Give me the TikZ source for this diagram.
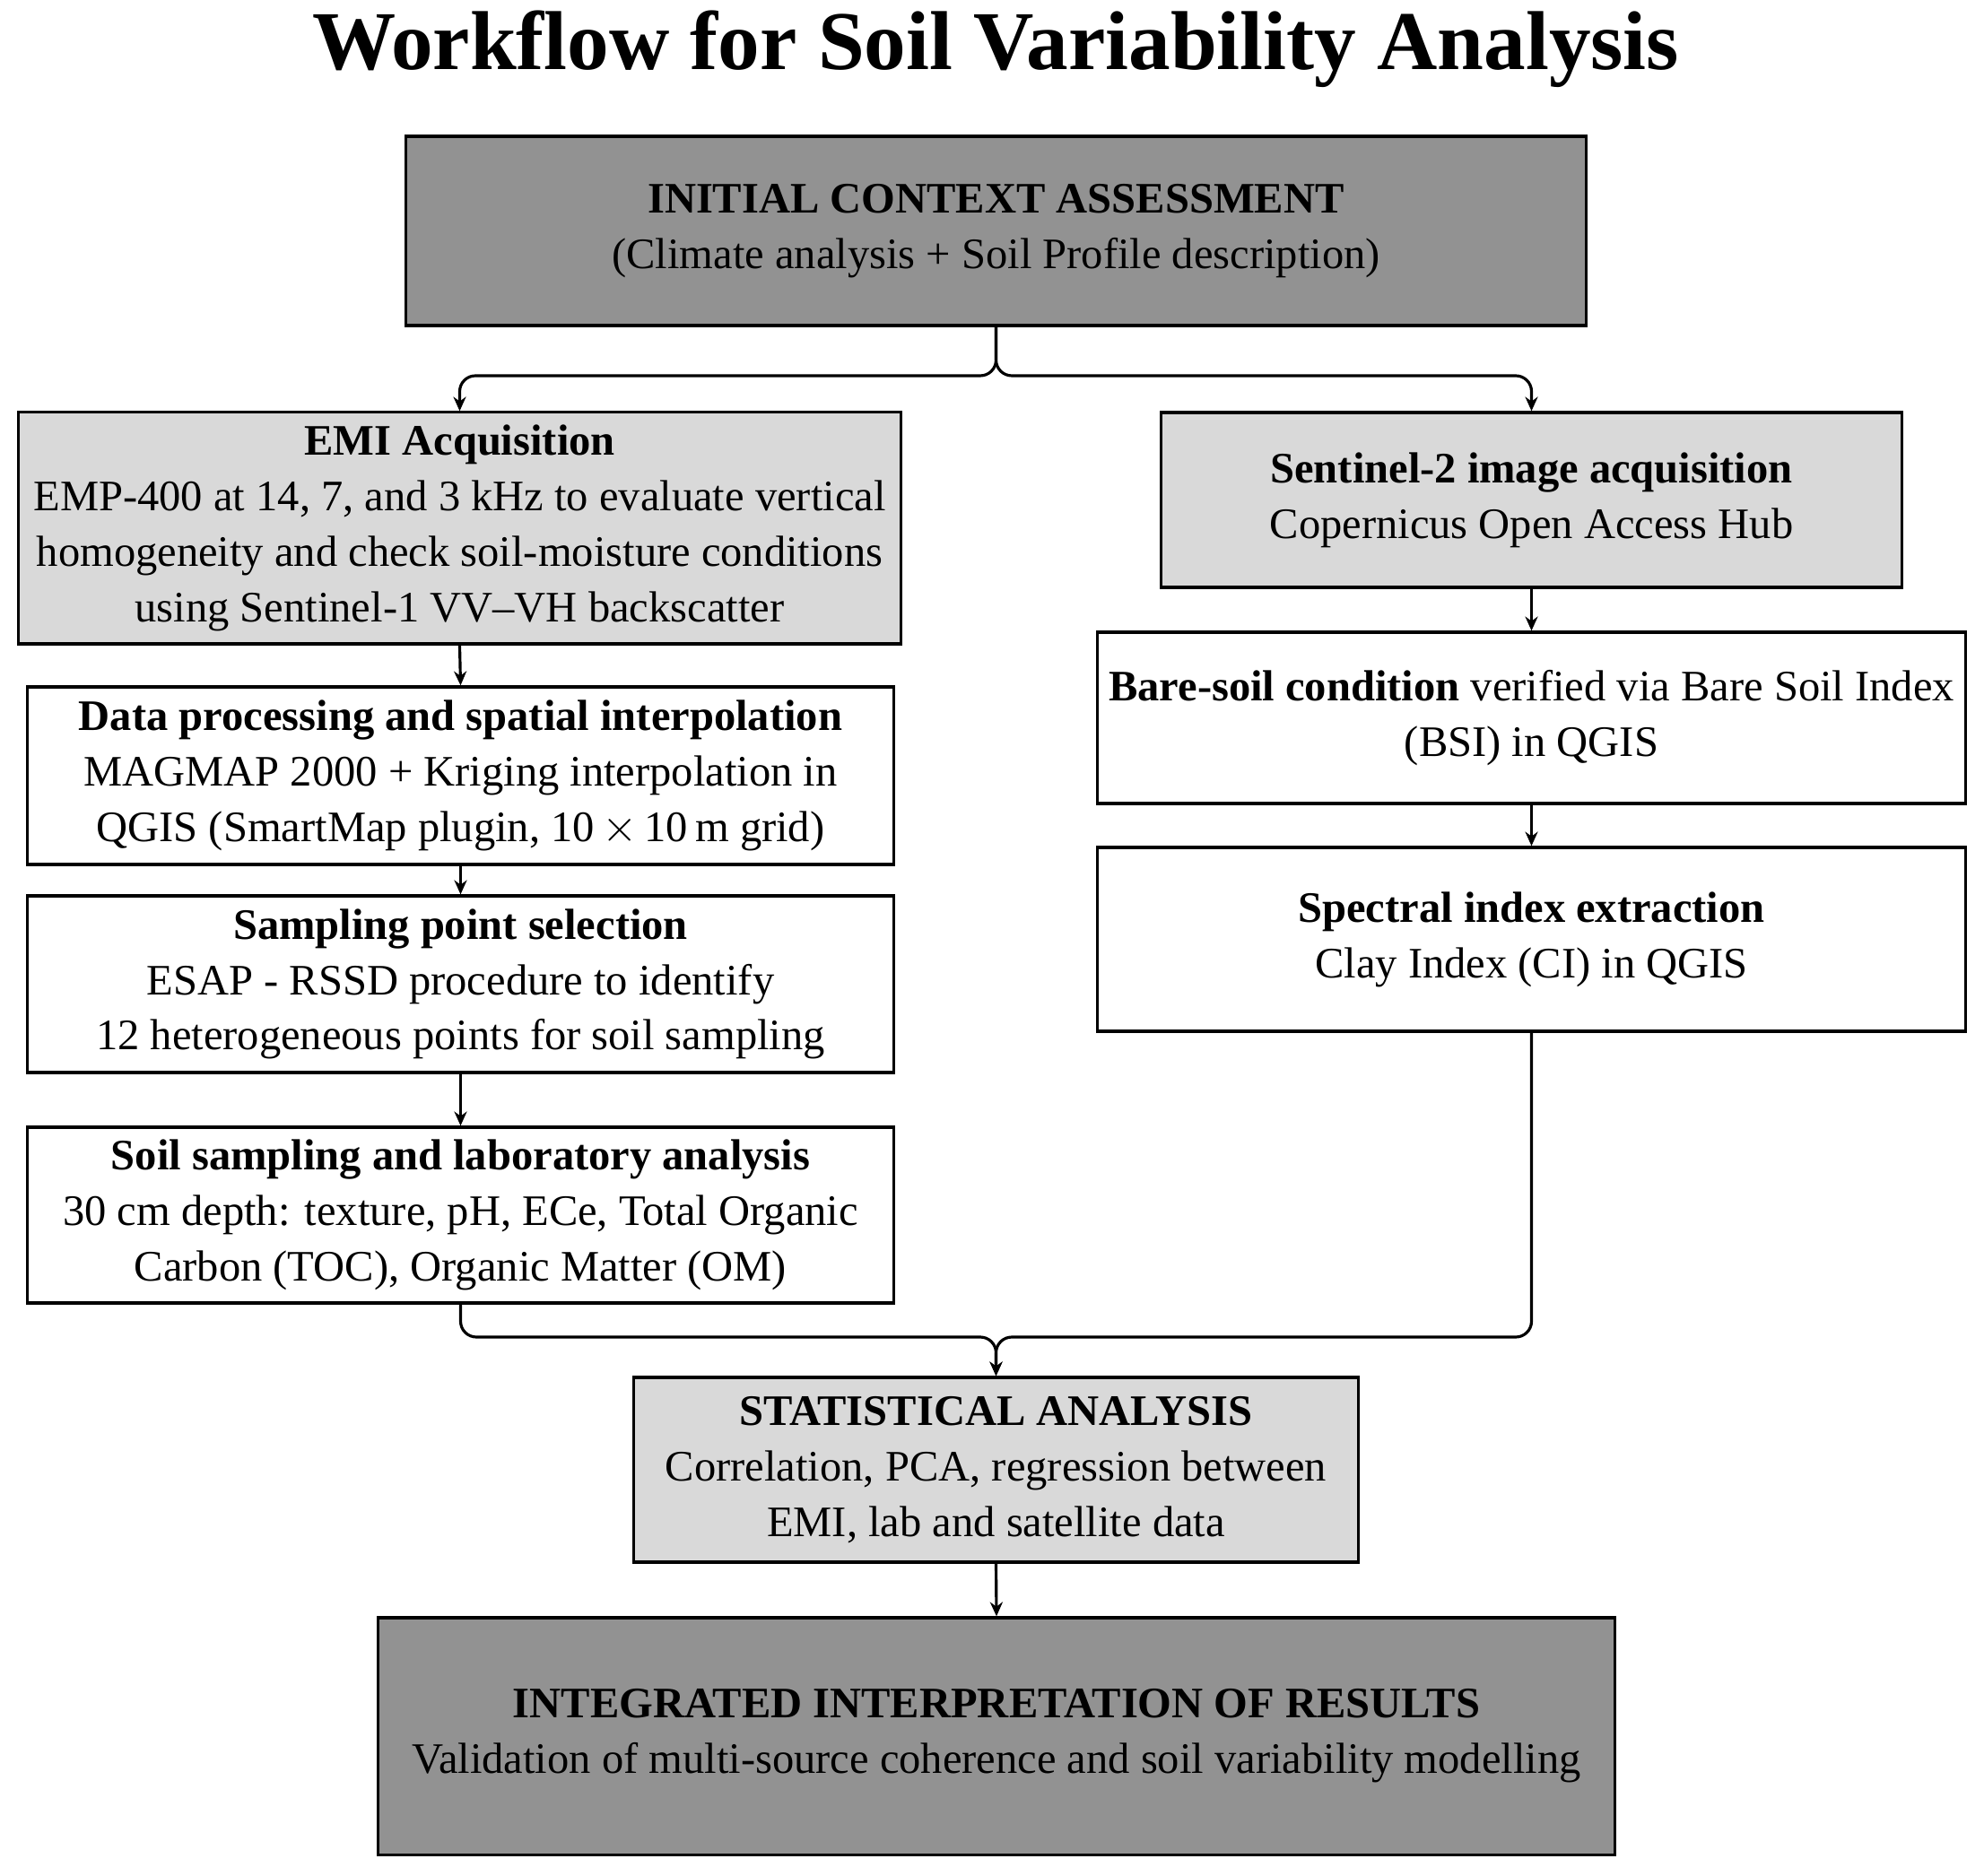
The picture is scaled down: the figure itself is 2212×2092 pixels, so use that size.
\documentclass[tikz,border=0pt]{standalone}
\usepackage{fontspec}
\setmainfont{Liberation Serif}
\usetikzlibrary{arrows.meta}
\definecolor{darkfill}{HTML}{929292}
\definecolor{lightfill}{HTML}{D9D9D9}
\tikzset{
  box/.style={draw=black, line width=0.9pt, align=center, inner sep=0pt,
    font=\fontsize{13.8}{17.6}\selectfont},
  darkbox/.style={box, fill=darkfill},
  lightbox/.style={box, fill=lightfill},
  whitebox/.style={box, fill=white},
  arr/.style={line width=0.9pt, -{Stealth[length=4.5pt,width=4pt]}},
  conn/.style={line width=0.9pt, rounded corners=5pt},
}
\begin{document}
\begin{tikzpicture}[x=0.01cm,y=-0.01cm]
\useasboundingbox (0,0) rectangle (2212,2092);
\node (title) at (1110,55) {\fontsize{26.5}{30}\selectfont\bfseries Workflow for Soil Variability Analysis};

\node[darkbox, minimum width=13.15cm, minimum height=2.11cm] (top) at (1110.5,257.5)
  {\textbf{INITIAL CONTEXT ASSESSMENT}\\(Climate analysis + Soil Profile description)};

\node[lightbox, minimum width=9.83cm, minimum height=2.58cm] (emi) at (512.5,589)
  {\textbf{EMI Acquisition}\\EMP-400 at 14, 7, and 3 kHz to evaluate vertical\\homogeneity and check soil-moisture conditions\\using Sentinel-1 VV--VH backscatter};

\node[lightbox, minimum width=8.25cm, minimum height=1.95cm] (sen) at (1707.5,557.5)
  {\textbf{Sentinel-2 image acquisition}\\Copernicus Open Access Hub};

\node[whitebox, minimum width=9.65cm, minimum height=1.98cm] (data) at (513.5,865)
  {\textbf{Data processing and spatial interpolation}\\MAGMAP 2000 + Kriging interpolation in\\QGIS (SmartMap plugin, 10\,$\times$\,10\,m grid)};

\node[whitebox, minimum width=9.65cm, minimum height=1.97cm] (samp) at (513.5,1097.5)
  {\textbf{Sampling point selection}\\ESAP - RSSD procedure to identify\\12 heterogeneous points for soil sampling};

\node[whitebox, minimum width=9.65cm, minimum height=1.96cm] (soil) at (513.5,1355)
  {\textbf{Soil sampling and laboratory analysis}\\30 cm depth: texture, pH, ECe, Total Organic\\Carbon (TOC), Organic Matter (OM)};

\node[whitebox, minimum width=9.67cm, minimum height=1.91cm] (bare) at (1707.5,800.5)
  {\textbf{Bare-soil condition} verified via Bare Soil Index\\(BSI) in QGIS};

\node[whitebox, minimum width=9.67cm, minimum height=2.05cm] (spec) at (1707.5,1047.5)
  {\textbf{Spectral index extraction}\\Clay Index (CI) in QGIS};

\node[lightbox, minimum width=8.07cm, minimum height=2.06cm] (stat) at (1110.5,1639)
  {\textbf{STATISTICAL ANALYSIS}\\Correlation, PCA, regression between\\EMI, lab and satellite data};

\node[darkbox, minimum width=13.78cm, minimum height=2.64cm] (integ) at (1111,1936)
  {\textbf{INTEGRATED INTERPRETATION OF RESULTS}\\Validation of multi-source coherence and soil variability modelling};

\coordinate (split) at (1110.5,419);
\coordinate (merge) at (1110.5,1491);

\draw[conn, arr] (top.south) -- (split) -| (emi.north);
\draw[conn, arr] (top.south) -- (split) -| (sen.north);
\draw[arr] (emi.south) -- (data.north);
\draw[arr] (data.south) -- (samp.north);
\draw[arr] (samp.south) -- (soil.north);
\draw[arr] (sen.south) -- (bare.north);
\draw[arr] (bare.south) -- (spec.north);
\draw[conn, arr] (soil.south) |- (merge) -- (stat.north);
\draw[conn, arr] (spec.south) |- (merge) -- (stat.north);
\draw[arr] (stat.south) -- (integ.north);
\end{tikzpicture}
\end{document}
